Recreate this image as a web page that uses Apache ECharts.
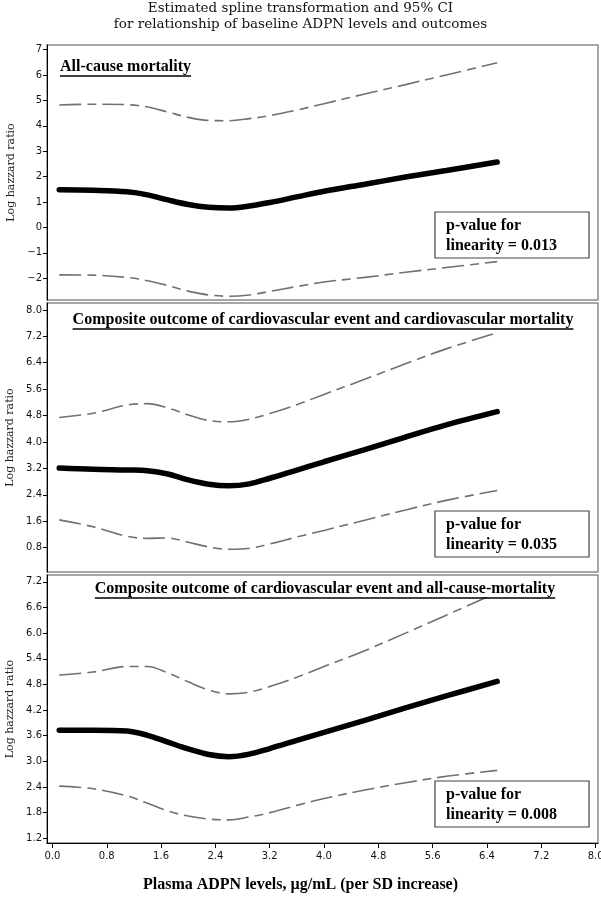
<!DOCTYPE html>
<html><head><meta charset="utf-8">
<script src="https://cdn.jsdelivr.net/npm/echarts@6/dist/echarts.min.js"></script>
<style>html,body{margin:0;padding:0;background:#fff}#c{width:601px;height:900px}</style>
</head><body><div id="c"></div>
<script>
// ---- data ----
const xGrid = [0.1, 0.6, 1.1, 1.4, 1.7, 2.0, 2.3, 2.6, 2.9, 3.2, 3.6, 4.0, 4.6, 5.2, 5.8, 6.55];

const p1Est   = [1.48, 1.46, 1.40, 1.28, 1.08, 0.90, 0.79, 0.76, 0.84, 0.98, 1.20, 1.42, 1.70, 1.98, 2.24, 2.57];
const p1Upper = [4.82, 4.85, 4.83, 4.74, 4.54, 4.33, 4.21, 4.20, 4.28, 4.40, 4.62, 4.87, 5.25, 5.62, 6.00, 6.48];
const p1Lower = [-1.87, -1.88, -1.97, -2.10, -2.29, -2.51, -2.66, -2.71, -2.66, -2.52, -2.33, -2.15, -1.97, -1.77, -1.58, -1.35];

const p2Est   = [3.21, 3.17, 3.15, 3.13, 3.03, 2.85, 2.72, 2.67, 2.73, 2.90, 3.15, 3.40, 3.77, 4.15, 4.52, 4.92];
const p2Upper = [4.74, 4.87, 5.12, 5.16, 5.03, 4.82, 4.65, 4.61, 4.69, 4.86, 5.13, 5.44, 5.90, 6.37, 6.82, 7.31];
const p2Lower = [1.64, 1.43, 1.14, 1.08, 1.09, 0.96, 0.82, 0.75, 0.78, 0.91, 1.12, 1.32, 1.63, 1.94, 2.23, 2.53];

const p3Est   = [3.73, 3.73, 3.71, 3.61, 3.45, 3.29, 3.16, 3.11, 3.17, 3.30, 3.49, 3.68, 3.96, 4.25, 4.53, 4.87];
const p3Upper = [5.02, 5.09, 5.22, 5.22, 5.07, 4.86, 4.67, 4.58, 4.62, 4.75, 4.97, 5.22, 5.59, 6.00, 6.42, 6.95];
const p3Lower = [2.42, 2.36, 2.19, 2.02, 1.84, 1.72, 1.65, 1.63, 1.70, 1.80, 1.97, 2.13, 2.33, 2.50, 2.65, 2.79];

const yTicks1 = [-2, -1, 0, 1, 2, 3, 4, 5, 6, 7];
const yTicks2 = [0.8, 1.6, 2.4, 3.2, 4.0, 4.8, 5.6, 6.4, 7.2, 8.0];
const yTicks3 = [1.2, 1.8, 2.4, 3.0, 3.6, 4.2, 4.8, 5.4, 6.0, 6.6, 7.2];
const xTicks  = [0.0, 0.8, 1.6, 2.4, 3.2, 4.0, 4.8, 5.6, 6.4, 7.2, 8.0];

const panelTitles = [
  'All-cause mortality',
  'Composite outcome of cardiovascular event and cardiovascular mortality',
  'Composite outcome of cardiovascular event and all-cause-mortality'
];
const pValues = ['0.013', '0.035', '0.008'];
const mainTitle = ['Estimated spline transformation and 95% CI', 'for relationship of baseline ADPN levels and outcomes'];
const xName = 'Plasma ADPN levels, \u00b5g/mL (per SD increase)';
const yName = 'Log hazzard ratio';

// ---- layout ----
const GL = 47, GW = 551;
const grids = [
  {left: GL, width: GW, top: 45, height: 255, ymin: -2.86, ymax: 7.18, ticks: yTicks1, dec: 0},
  {left: GL, width: GW, top: 303, height: 269, ymin: 0.06, ymax: 8.21, ticks: yTicks2, dec: 1},
  {left: GL, width: GW, top: 575, height: 268, ymin: 1.09, ymax: 7.36, ticks: yTicks3, dec: 1}
];
const panels = [[p1Est, p1Upper, p1Lower], [p2Est, p2Upper, p2Lower], [p3Est, p3Upper, p3Lower]];

const ctx = document.createElement('canvas').getContext('2d');
function tw(t, f) { ctx.font = f; return ctx.measureText(t).width; }

const SERIF = '"Liberation Serif", "Times New Roman", serif';
const titleFont = 'bold 16px ' + SERIF;
const tickFont = '"DejaVu Sans", sans-serif';

const grid = [], xAxis = [], yAxis = [], series = [], graphic = [];
grids.forEach((g, i) => {
  grid.push({left: g.left, width: g.width, top: g.top, height: g.height, show: true,
    containLabel: false, outerBoundsMode: 'none',
    borderColor: '#8a8a8a', borderWidth: 1.5, backgroundColor: 'transparent'});
  const last = i === 2;
  xAxis.push({type: 'value', gridIndex: i, min: -0.08, max: 8.035, show: last,
    splitLine: {show: false},
    axisLine: {show: true, onZero: false, lineStyle: {color: '#000', width: 1}},
    axisTick: {show: true, length: 5, customValues: xTicks, lineStyle: {color: '#000'}},
    axisLabel: {customValues: xTicks, margin: 8, fontFamily: tickFont, fontSize: 10, color: '#111',
      formatter: v => v.toFixed(1)}});
  yAxis.push({type: 'value', gridIndex: i, min: g.ymin, max: g.ymax,
    name: yName, nameLocation: 'middle', nameGap: 29,
    nameTextStyle: {fontFamily: '"DejaVu Serif", serif', fontSize: 11, color: '#222'},
    splitLine: {show: false},
    axisLine: {show: true, onZero: false, lineStyle: {color: '#000', width: 1}},
    axisTick: {show: true, length: 4, customValues: g.ticks, lineStyle: {color: '#000'}},
    axisLabel: {customValues: g.ticks, margin: 5, fontFamily: tickFont, fontSize: 10, color: '#111',
      formatter: v => (v < 0 ? '\u2212' : '') + Math.abs(v).toFixed(g.dec)}});
  const [est, up, lo] = panels[i];
  [up, lo].forEach(arr => series.push({type: 'line', xAxisIndex: i, yAxisIndex: i, symbol: 'none',
    smooth: 0.35, z: 2, data: xGrid.map((x, k) => [x, arr[k]]),
    lineStyle: {color: '#707070', width: 1.6, type: [22, 6, 9, 6]}}));
  series.push({type: 'line', xAxisIndex: i, yAxisIndex: i, symbol: 'none', smooth: 0.35, z: 3,
    data: xGrid.map((x, k) => [x, est[k]]),
    lineStyle: {color: '#000', width: 5.5, cap: 'round'}});
});

// panel titles with underline
const titlePos = [
  {x: 60, y: 69, align: 'left'},
  {x: 323, y: 322, align: 'center'},
  {x: 325, y: 591, align: 'center'}
];
panelTitles.forEach((t, i) => {
  const p = titlePos[i];
  const w = tw(t, titleFont);
  const x0 = p.align === 'left' ? p.x : p.x - w / 2;
  graphic.push({type: 'text', z: 100, left: x0, top: p.y - 10,
    style: {text: t, font: titleFont, fill: '#000', backgroundColor: '#fff'}});
  graphic.push({type: 'line', z: 101, shape: {x1: x0, y1: p.y + 7, x2: x0 + w, y2: p.y + 7},
    style: {stroke: '#000', lineWidth: 1.3}});
});

// p-value boxes
const boxTop = [212, 511, 781];
pValues.forEach((pv, i) => {
  const y = boxTop[i];
  graphic.push({type: 'rect', z: 100, shape: {x: 435, y: y, width: 154, height: 46},
    style: {fill: '#fff', stroke: '#444', lineWidth: 1.2}});
  graphic.push({type: 'text', z: 101, left: 446, top: y + 4,
    style: {text: 'p-value for\nlinearity = ' + pv, font: titleFont, fill: '#000', lineHeight: 20}});
});

// main title
graphic.push({type: 'text', z: 100, left: 'center', top: 0,
  style: {text: mainTitle.join('\n'), font: '13.5px "DejaVu Serif", serif', fill: '#111',
    textAlign: 'center', lineHeight: 16}});
// x axis name
graphic.push({type: 'text', z: 100, left: 'center', top: 877,
  style: {text: xName, font: titleFont, fill: '#000', textAlign: 'center'}});

const chart = echarts.init(document.getElementById('c'), null, {renderer: 'canvas'});
chart.setOption({animation: false, backgroundColor: '#fff', grid, xAxis, yAxis, series, graphic});
</script></body></html>
